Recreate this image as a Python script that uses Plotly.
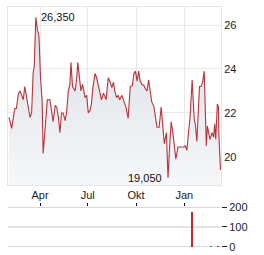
import plotly.graph_objects as go

dates = ["2023-02-01","2023-02-06","2023-02-12","2023-02-15","2023-02-19","2023-02-22","2023-02-25","2023-02-28",
         "2023-03-03","2023-03-07","2023-03-10","2023-03-13","2023-03-16","2023-03-19","2023-03-21","2023-03-24",
         "2023-03-27","2023-03-30","2023-04-02","2023-04-05","2023-04-07","2023-04-11","2023-04-15","2023-04-20",
         "2023-04-23","2023-04-26","2023-04-30","2023-05-03","2023-05-06","2023-05-09","2023-05-12","2023-05-15",
         "2023-05-19","2023-05-22","2023-05-25","2023-05-28","2023-05-30","2023-06-02","2023-06-07","2023-06-10",
         "2023-06-12","2023-06-15","2023-06-18","2023-06-21","2023-06-26","2023-06-29","2023-07-02","2023-07-05",
         "2023-07-08","2023-07-11","2023-07-15","2023-07-18","2023-07-21","2023-07-24","2023-07-27","2023-07-31",
         "2023-08-05","2023-08-09","2023-08-12","2023-08-16","2023-08-19","2023-08-22","2023-08-25","2023-08-28",
         "2023-08-31","2023-09-04","2023-09-07","2023-09-12","2023-09-16","2023-09-20","2023-09-24","2023-09-27",
         "2023-09-30","2023-10-03","2023-10-06","2023-10-09","2023-10-12","2023-10-16","2023-10-19","2023-10-22",
         "2023-10-25","2023-10-28","2023-10-31","2023-11-04","2023-11-07","2023-11-10","2023-11-14","2023-11-18",
         "2023-11-21","2023-11-24","2023-11-28","2023-12-01","2023-12-04","2023-12-07","2023-12-10","2023-12-13",
         "2023-12-16","2023-12-20","2023-12-24","2023-12-31","2024-01-03","2024-01-06","2024-01-09","2024-01-12",
         "2024-01-16","2024-01-20","2024-01-22","2024-01-25","2024-01-28","2024-01-30","2024-02-02","2024-02-05",
         "2024-02-08","2024-02-10","2024-02-12","2024-02-14","2024-02-16","2024-02-19","2024-02-23","2024-02-26",
         "2024-02-28","2024-03-01","2024-03-04","2024-03-06","2024-03-07","2024-03-10"]
prices = [21.8, 21.3, 22.2, 22.2, 22.9, 23.0, 22.8, 22.6,
          23.2, 22.6, 22.1, 21.8, 22.0, 23.85, 24.1, 26.35,
          25.8, 25.5, 23.6, 22.6, 20.15, 21.6, 22.6, 22.6,
          22.1, 21.6, 22.35, 22.25, 21.8, 21.1, 22.0, 22.0,
          21.65, 22.1, 23.0, 23.3, 24.3, 23.2, 23.0, 23.6,
          24.3, 23.6, 23.0, 23.3, 22.7, 22.8, 22.0, 22.1,
          22.4, 23.2, 23.8, 23.6, 23.3, 22.95, 22.6, 22.9,
          22.6, 23.6, 23.45, 23.15, 23.4, 22.95, 22.7, 22.8,
          22.6, 22.8, 22.6, 22.25, 21.75, 23.2, 23.25, 23.8,
          23.9, 23.45, 23.9, 23.45, 23.3, 23.25, 23.1, 23.0,
          23.5, 22.9, 22.5, 22.3, 21.8, 21.35, 21.35, 22.27,
          21.4, 20.6, 21.1, 19.05, 20.45, 21.6, 21.15, 20.45,
          19.9, 20.45, 20.45, 20.45, 20.5, 20.3, 21.1, 21.8,
          23.5, 21.7, 21.5, 20.7, 22.2, 23.2, 23.2, 23.4,
          23.9, 22.0, 20.5, 21.4, 21.2, 20.8, 21.1, 20.9,
          21.5, 20.8, 22.4, 22.3, 21.0, 19.4]

vol_dates = ["2024-01-16", "2024-02-21", "2024-03-06"]
vol_values = [175, 4, 4]
vol_colors = ["#c8262b", "#3a9a3a", "#c8262b"]

tick_dates = ["2023-04-01", "2023-07-01", "2023-10-01", "2024-01-01"]
tick_labels = ["Apr", "Jul", "Okt", "Jan"]
price_ticks = [20, 22, 24, 26]
vol_ticks = [0, 100, 200]

x_range = ["2023-01-30", "2024-03-11"]
y_range = [18.72, 26.82]
vol_range = [-0.8, 200.8]

FONT = "Liberation Sans, Arial, sans-serif"

fig = go.Figure()
fig.add_trace(go.Scatter(
    x=dates, y=prices, mode="lines",
    line=dict(color="#b8333a", width=1.1),
    fill="tozeroy",
    fillgradient=dict(type="vertical", start=y_range[0], stop=max(prices),
                      colorscale=[[0, "#f6f7f9"], [1, "#d8dfe5"]]),
    hoverinfo="skip", showlegend=False, xaxis="x", yaxis="y"))

fig.add_trace(go.Bar(
    x=vol_dates, y=vol_values, marker=dict(color=vol_colors, line=dict(width=0)),
    width=2.2 * 86400000, hoverinfo="skip", showlegend=False, xaxis="x2", yaxis="y2"))

# volume panel grid lines at each volume tick
for t in vol_ticks:
    fig.add_shape(type="line", xref="x2 domain", x0=0, x1=1, yref="y2", y0=t, y1=t,
                  line=dict(color="#c8c8c8", width=1), layer="below")

imax = prices.index(max(prices))
imin = prices.index(min(prices))
fmt = lambda v: f"{v:.3f}".replace(".", ",")
fig.add_annotation(x=dates[imax], y=prices[imax], text=fmt(prices[imax]), showarrow=False,
                   xanchor="left", yanchor="middle", xshift=3, font=dict(size=11, color="#111", family=FONT))
fig.add_annotation(x=dates[imin], y=prices[imin], text=fmt(prices[imin]), showarrow=False,
                   xanchor="right", yanchor="middle", xshift=-4, font=dict(size=11, color="#111", family=FONT))

fig.update_layout(
    width=264, height=255, margin=dict(l=8, r=43, t=7, b=8, autoexpand=False),
    paper_bgcolor="white", plot_bgcolor="white",
    font=dict(family=FONT, size=11, color="#222"),
    bargap=0,
    xaxis=dict(domain=[0, 1], range=x_range, type="date", tickvals=tick_dates, ticktext=tick_labels,
               showgrid=True, gridcolor="#e8e8e8", gridwidth=1, showline=True, linecolor="#e6e6e6",
               mirror=True, ticks="", zeroline=False, tickfont=dict(size=11, color="#222"),
               fixedrange=True, automargin=False),
    yaxis=dict(domain=[0.2583, 1], range=y_range, side="right", tickvals=price_ticks,
               showgrid=True, gridcolor="#e8e8e8", showline=True, linecolor="#e6e6e6", mirror=True,
               ticks="", zeroline=False, tickfont=dict(size=11, color="#222"), fixedrange=True,
               automargin=False),
    xaxis2=dict(domain=[0, 1], range=x_range, type="date", anchor="y2", side="top", tickvals=tick_dates,
                showticklabels=False, ticks="outside", ticklen=3, tickcolor="#111", tickwidth=1,
                showgrid=False, showline=False, zeroline=False, fixedrange=True, automargin=False),
    yaxis2=dict(domain=[0, 0.1667], range=vol_range, side="right", anchor="x2", tickvals=vol_ticks,
                showgrid=False, ticks="outside", ticklen=5, tickcolor="#222",
                showline=False, zeroline=False, tickfont=dict(size=11, color="#222"), fixedrange=True,
                automargin=False),
)

fig.write_html("out.html")
